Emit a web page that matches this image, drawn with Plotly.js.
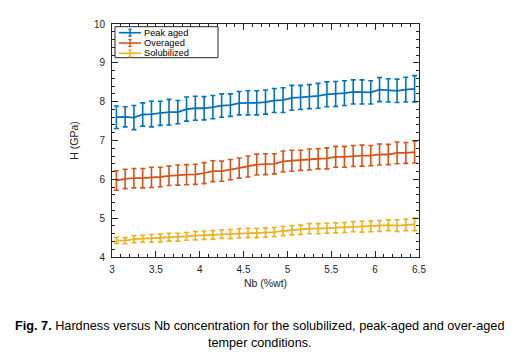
<!DOCTYPE html>
<html>
<head>
<meta charset="utf-8">
<script src="https://cdn.plot.ly/plotly-3.0.1.min.js"></script>
<style>
html,body{margin:0;padding:0;background:#fff;}
#chart{width:519px;height:362px;}
</style>
</head>
<body>
<div id="chart"></div>
<script>
// Nb concentration (%wt)
var nb = [3.05,3.15,3.25,3.35,3.45,3.55,3.65,3.75,3.85,3.95,4.05,4.15,4.25,4.35,4.45,4.55,4.65,4.75,4.85,4.95,5.05,5.15,5.25,5.35,5.45,5.55,5.65,5.75,5.85,5.95,6.05,6.15,6.25,6.35,6.45];

var peakAged = [7.60,7.61,7.59,7.67,7.68,7.70,7.73,7.73,7.81,7.83,7.83,7.86,7.90,7.91,7.96,7.97,7.97,7.99,8.03,8.04,8.10,8.11,8.13,8.15,8.19,8.20,8.22,8.25,8.25,8.24,8.31,8.29,8.28,8.31,8.33];
var peakAgedErr = [0.29,0.26,0.31,0.30,0.33,0.31,0.33,0.30,0.31,0.31,0.30,0.30,0.30,0.29,0.30,0.31,0.31,0.31,0.31,0.32,0.32,0.31,0.31,0.32,0.32,0.32,0.32,0.31,0.31,0.30,0.31,0.30,0.30,0.32,0.34];

var overaged = [5.97,6.01,6.03,6.03,6.05,6.06,6.09,6.11,6.12,6.13,6.16,6.21,6.21,6.25,6.29,6.33,6.38,6.39,6.40,6.46,6.48,6.49,6.51,6.53,6.54,6.58,6.58,6.60,6.61,6.61,6.64,6.64,6.68,6.68,6.70];
var overagedErr = [0.25,0.25,0.25,0.25,0.26,0.25,0.25,0.26,0.26,0.26,0.27,0.27,0.26,0.26,0.26,0.27,0.27,0.27,0.26,0.27,0.27,0.26,0.27,0.26,0.27,0.27,0.27,0.27,0.27,0.26,0.27,0.26,0.28,0.27,0.28];

var solubilized = [4.43,4.42,4.46,4.47,4.48,4.49,4.51,4.51,4.53,4.55,4.56,4.57,4.59,4.59,4.61,4.62,4.62,4.63,4.64,4.67,4.69,4.70,4.73,4.73,4.74,4.75,4.76,4.78,4.78,4.79,4.80,4.82,4.81,4.83,4.84];
var solubilizedErr = [0.08,0.08,0.09,0.09,0.10,0.10,0.10,0.10,0.10,0.11,0.11,0.11,0.11,0.12,0.12,0.12,0.12,0.12,0.12,0.12,0.12,0.12,0.13,0.13,0.13,0.13,0.13,0.13,0.14,0.14,0.14,0.14,0.15,0.15,0.16];

var seriesNames = ['Peak aged','Overaged','Solubilized'];
var seriesColors = ['#0072BD','#D95319','#EDB120'];
var seriesY = [peakAged, overaged, solubilized];
var seriesErr = [peakAgedErr, overagedErr, solubilizedErr];

var xTicks = [3,3.5,4,4.5,5,5.5,6,6.5];
var yTicks = [4,5,6,7,8,9,10];

var FONT = 'Liberation Sans, Arial, sans-serif';

var traces = seriesNames.map(function(n,i){
  return {
    x: nb, y: seriesY[i], name: n, type: 'scatter', mode: 'lines',
    showlegend: false,
    line: {color: seriesColors[i], width: 1.8},
    error_y: {type: 'data', array: seriesErr[i], visible: true, color: seriesColors[i], thickness: 1.6, width: 2.5}
  };
});

var axisCommon = {
  showgrid: false, zeroline: false, showline: true, linecolor: '#262626', linewidth: 1,
  mirror: 'allticks', ticks: 'inside', ticklen: 6, tickcolor: '#262626', tickwidth: 1,
  tickfont: {family: FONT, size: 10, color: '#262626'}
};

// legend box built in paper coordinates (plot area: 112..419 px, 24..257 px)
var plotL = 112, plotW = 307, plotB = 257.3, plotH = 233;
function px2x(p){ return (p - plotL) / plotW; }
function py2y(p){ return (plotB - p) / plotH; }

var shapes = [{
  type: 'rect', xref: 'paper', yref: 'paper',
  x0: px2x(115), x1: px2x(218), y0: py2y(58), y1: py2y(27),
  line: {color: '#262626', width: 1}, fillcolor: '#fff', layer: 'above'
}];
var annotations = [];
var rowY = [33, 43.3, 53.6];
seriesNames.forEach(function(n,i){
  var yy = py2y(rowY[i]);
  shapes.push({type:'line', xref:'paper', yref:'paper', x0: px2x(119), x1: px2x(141), y0: yy, y1: yy,
    line:{color: seriesColors[i], width: 1.6}, layer:'above'});
  shapes.push({type:'line', xref:'paper', yref:'paper', x0: px2x(130), x1: px2x(130), y0: py2y(rowY[i]-3.5), y1: py2y(rowY[i]+3.5),
    line:{color: seriesColors[i], width: 1.4}, layer:'above'});
  shapes.push({type:'line', xref:'paper', yref:'paper', x0: px2x(128.3), x1: px2x(131.7), y0: py2y(rowY[i]-3.5), y1: py2y(rowY[i]-3.5),
    line:{color: seriesColors[i], width: 1.2}, layer:'above'});
  shapes.push({type:'line', xref:'paper', yref:'paper', x0: px2x(128.3), x1: px2x(131.7), y0: py2y(rowY[i]+3.5), y1: py2y(rowY[i]+3.5),
    line:{color: seriesColors[i], width: 1.2}, layer:'above'});
  annotations.push({xref:'paper', yref:'paper', x: px2x(141.5), y: yy, xanchor:'left', yanchor:'middle',
    showarrow:false, text: n, font:{family: FONT, size: 9.3, color:'#000'}});
});

annotations.push({
  xref: 'paper', yref: 'paper', x: px2x(259.5), y: py2y(317), xanchor: 'center', yanchor: 'top',
  showarrow: false, align: 'center',
  text: '<b>Fig. 7.</b> Hardness versus Nb concentration for the solubilized, peak-aged and over-aged<br>temper conditions.',
  font: {family: FONT, size: 12.7, color: '#000'}
});

var layout = {
  width: 519, height: 362,
  margin: {l: 112, r: 100, t: 24, b: 105},
  paper_bgcolor: '#fff', plot_bgcolor: '#fff',
  showlegend: false,
  xaxis: Object.assign({}, axisCommon, {
    range: [3, 6.5], tickvals: xTicks, ticktext: xTicks.map(String),
    minor: {dtick: 0.1, ticks: 'inside', ticklen: 3, tickcolor: '#262626'},
    ticklabelstandoff: 3,
    title: {text: 'Nb (%wt)', standoff: 5, font: {family: FONT, size: 10.5, color: '#262626'}}
  }),
  yaxis: Object.assign({}, axisCommon, {
    range: [4, 10], tickvals: yTicks, ticktext: yTicks.map(String),
    minor: {dtick: 0.2, ticks: 'inside', ticklen: 3, tickcolor: '#262626'},
    ticklabelstandoff: 4,
    title: {text: 'H (GPa)', standoff: 13, font: {family: FONT, size: 10.5, color: '#262626'}}
  }),
  shapes: shapes,
  annotations: annotations
};

Plotly.newPlot('chart', traces, layout, {displayModeBar: false, staticPlot: true});
</script>
</body>
</html>
